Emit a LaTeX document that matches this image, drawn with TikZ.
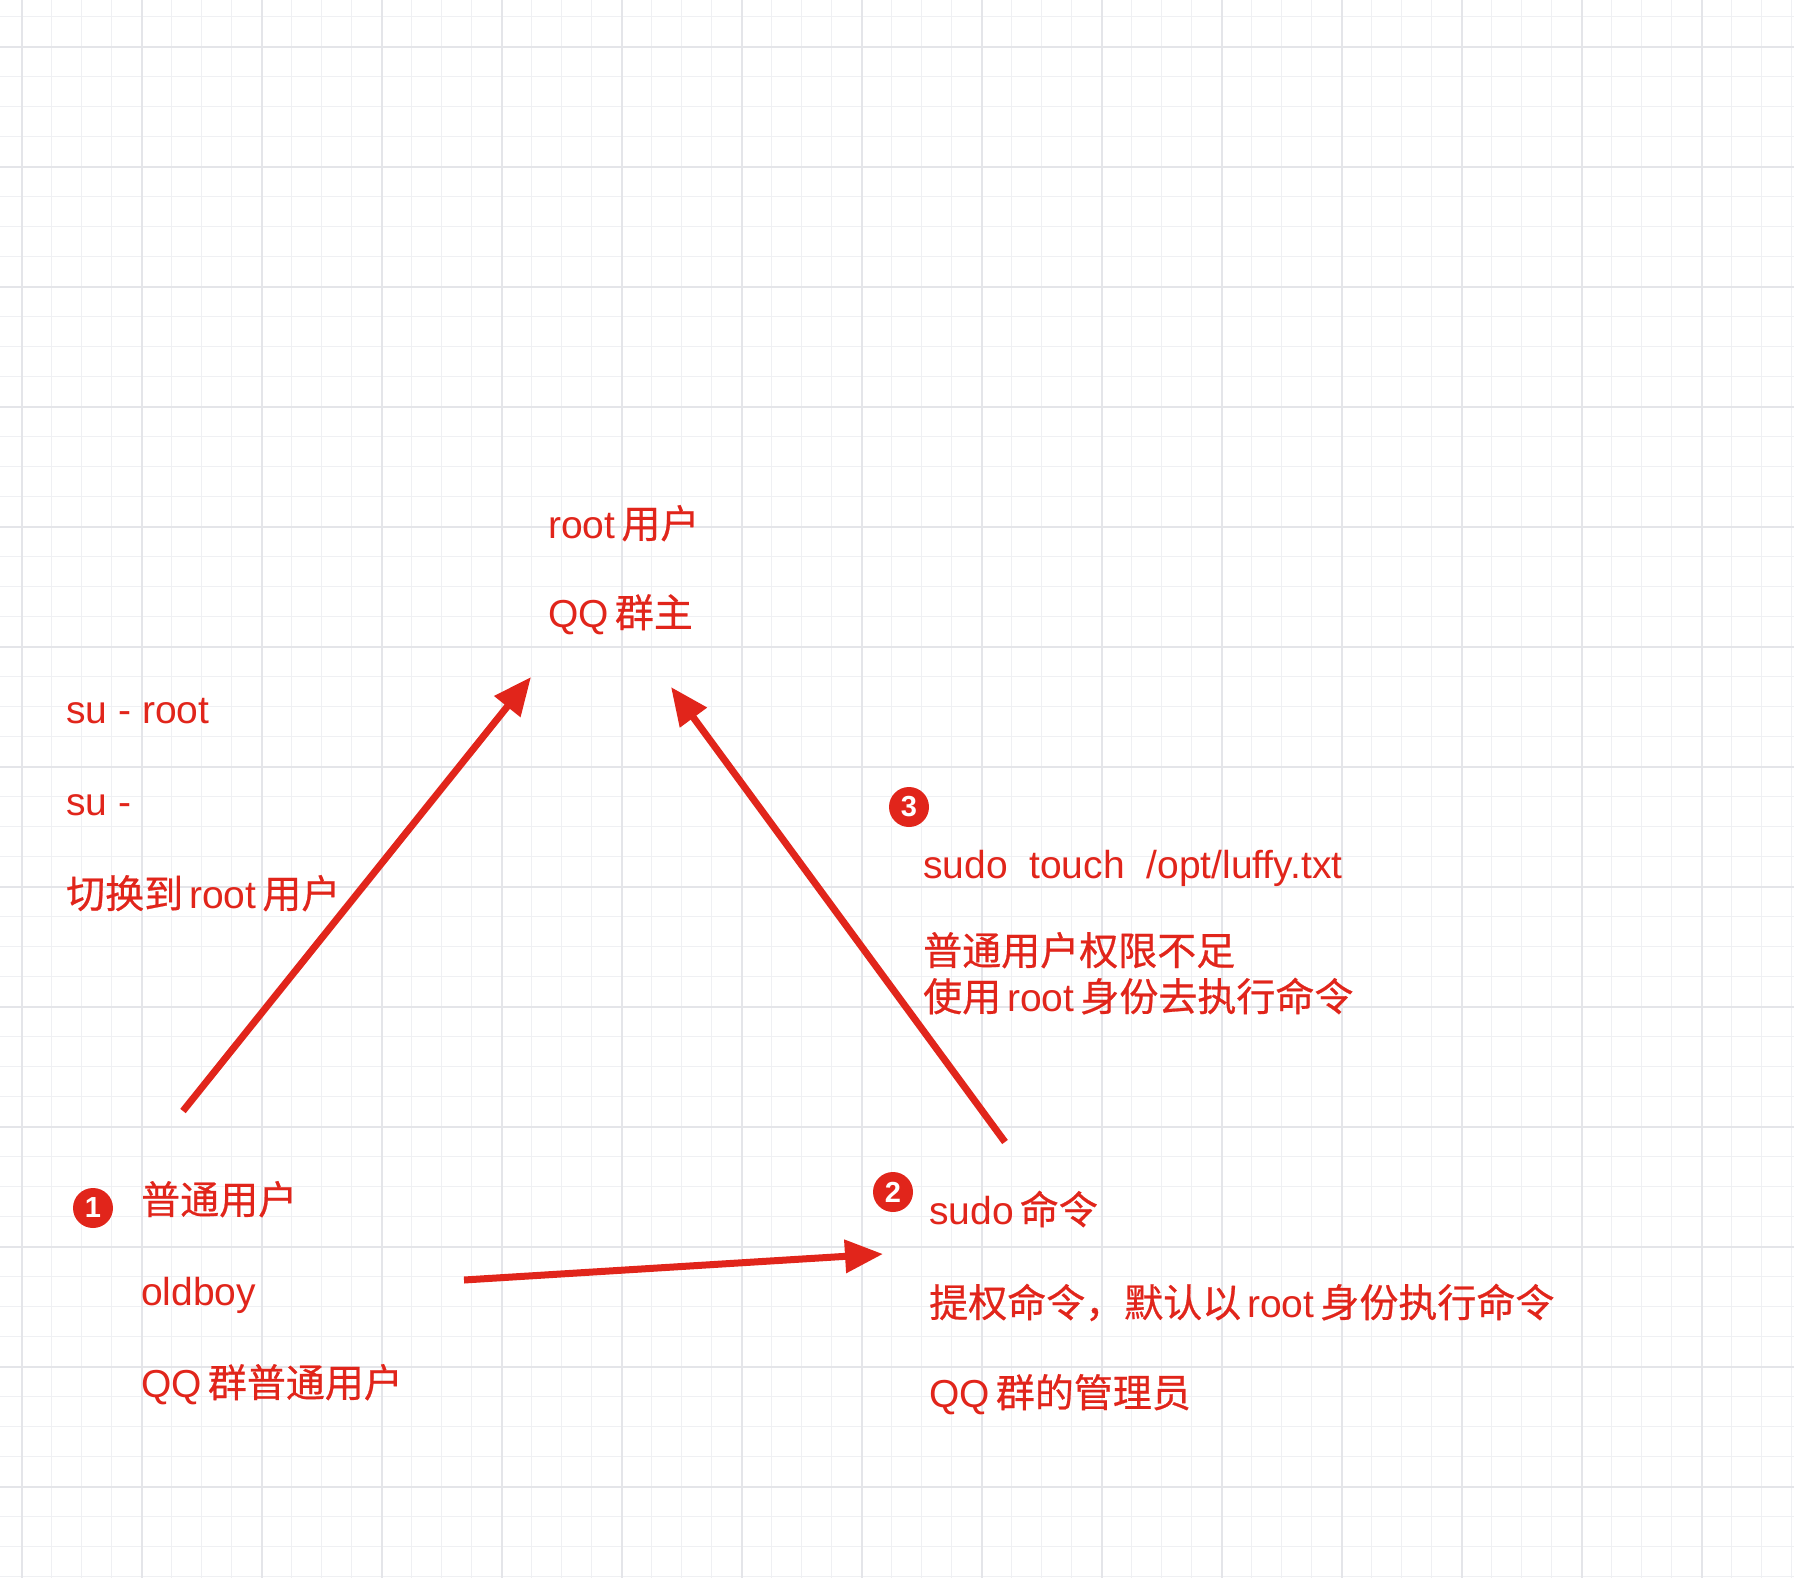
\documentclass[tikz,border=0pt]{standalone}
\usepackage{fontspec}
\setmainfont{Liberation Sans}
\newfontfamily\cjk{Noto Sans CJK SC}[FakeBold=0.6]
\usetikzlibrary{arrows.meta}
\usetikzlibrary{positioning}
\definecolor{qqred}{HTML}{E1251B}
\definecolor{gridmajor}{HTML}{E4E5E9}
\definecolor{gridminor}{HTML}{EFF0F3}
\newcommand{\zgap}{\hspace{6pt}}
\tikzset{
    mytext/.style = {anchor=base west, inner sep=0pt, text=qqred, font=\fontsize{39}{46}\selectfont},
    mybadge/.style = {circle, fill=qqred, text=white, minimum size=40pt, inner sep=0pt, font=\bfseries\fontsize{29}{29}\selectfont},
    edger/.style = {-{Triangle[length=38pt,width=32pt]}, line width=7pt, qqred},
    gridthin/.style = {line width=1.4pt, gridminor},
    gridbold/.style = {line width=2pt, gridmajor}
}

\begin{document}
\begin{tikzpicture}[x=1pt,y=-1pt]
  \fill[white] (0,0) rectangle (1794,1578);
  \useasboundingbox (0,0) rectangle (1794,1578);

  % grid paper
  \foreach \i in {0,...,59} {
    \draw[gridthin] ({21.7+30*\i},0) -- ({21.7+30*\i},1578);
  }
  \foreach \i in {0,...,52} {
    \draw[gridthin] (0,{16.7+30*\i}) -- (1794,{16.7+30*\i});
  }
  \foreach \i in {0,...,14} {
    \draw[gridbold] ({21.7+120*\i},0) -- ({21.7+120*\i},1578);
  }
  \foreach \i in {0,...,12} {
    \draw[gridbold] (0,{46.7+120*\i}) -- (1794,{46.7+120*\i});
  }

  % root
  \node[mytext] (rootuser) at (548,538) {root\zgap{\cjk 用户}};
  \node[mytext] (qqowner) at (548,627) {QQ\zgap{\cjk 群主}};

  % su
  \node[mytext] (suroot) at (66,723) {su - root};
  \node[mytext] (sudash) at (66,815) {su -};
  \node[mytext] (switchroot) at (66,908) {{\cjk 切换到}\zgap root\zgap{\cjk 用户}};

  % normal user
  \node[mybadge] (one) at (93,1208) {1};
  \node[mytext] (normaluser) at (141,1214) {\cjk 普通用户};
  \node[mytext] (oldboy) at (141,1305) {oldboy};
  \node[mytext] (qqmember) at (141,1397) {QQ\zgap{\cjk 群普通用户}};

  % sudo
  \node[mybadge] (two) at (893,1192) {2};
  \node[mytext] (sudocmd) at (929,1224) {sudo\zgap{\cjk 命令}};
  \node[mytext] (sudodesc) at (929,1317) {{\cjk 提权命令，默认以}\zgap root\zgap{\cjk 身份执行命令}};
  \node[mytext] (qqadmin) at (929,1407) {QQ\zgap{\cjk 群的管理员}};

  % sudo example
  \node[mybadge] (three) at (909,807) {3};
  \node[mytext] (sudotouch) at (923,878) {sudo\ \ touch\ \ /opt/luffy.txt};
  \node[mytext] (lackperm) at (923,965) {\cjk 普通用户权限不足};
  \node[mytext] (asroot) at (923,1011) {{\cjk 使用}\zgap root\zgap{\cjk 身份去执行命令}};

  \coordinate (sufrom) at (183,1111);
  \coordinate (suto) at (531,677);
  \coordinate (sudofrom) at (1005,1142);
  \coordinate (sudoto) at (671,687);
  \coordinate (userfrom) at (464,1280);
  \coordinate (userto) at (883,1254);

  \draw[edger] (sufrom) -- (suto);
  \draw[edger] (sudofrom) -- (sudoto);
  \draw[edger] (userfrom) -- (userto);
\end{tikzpicture}
\end{document}
